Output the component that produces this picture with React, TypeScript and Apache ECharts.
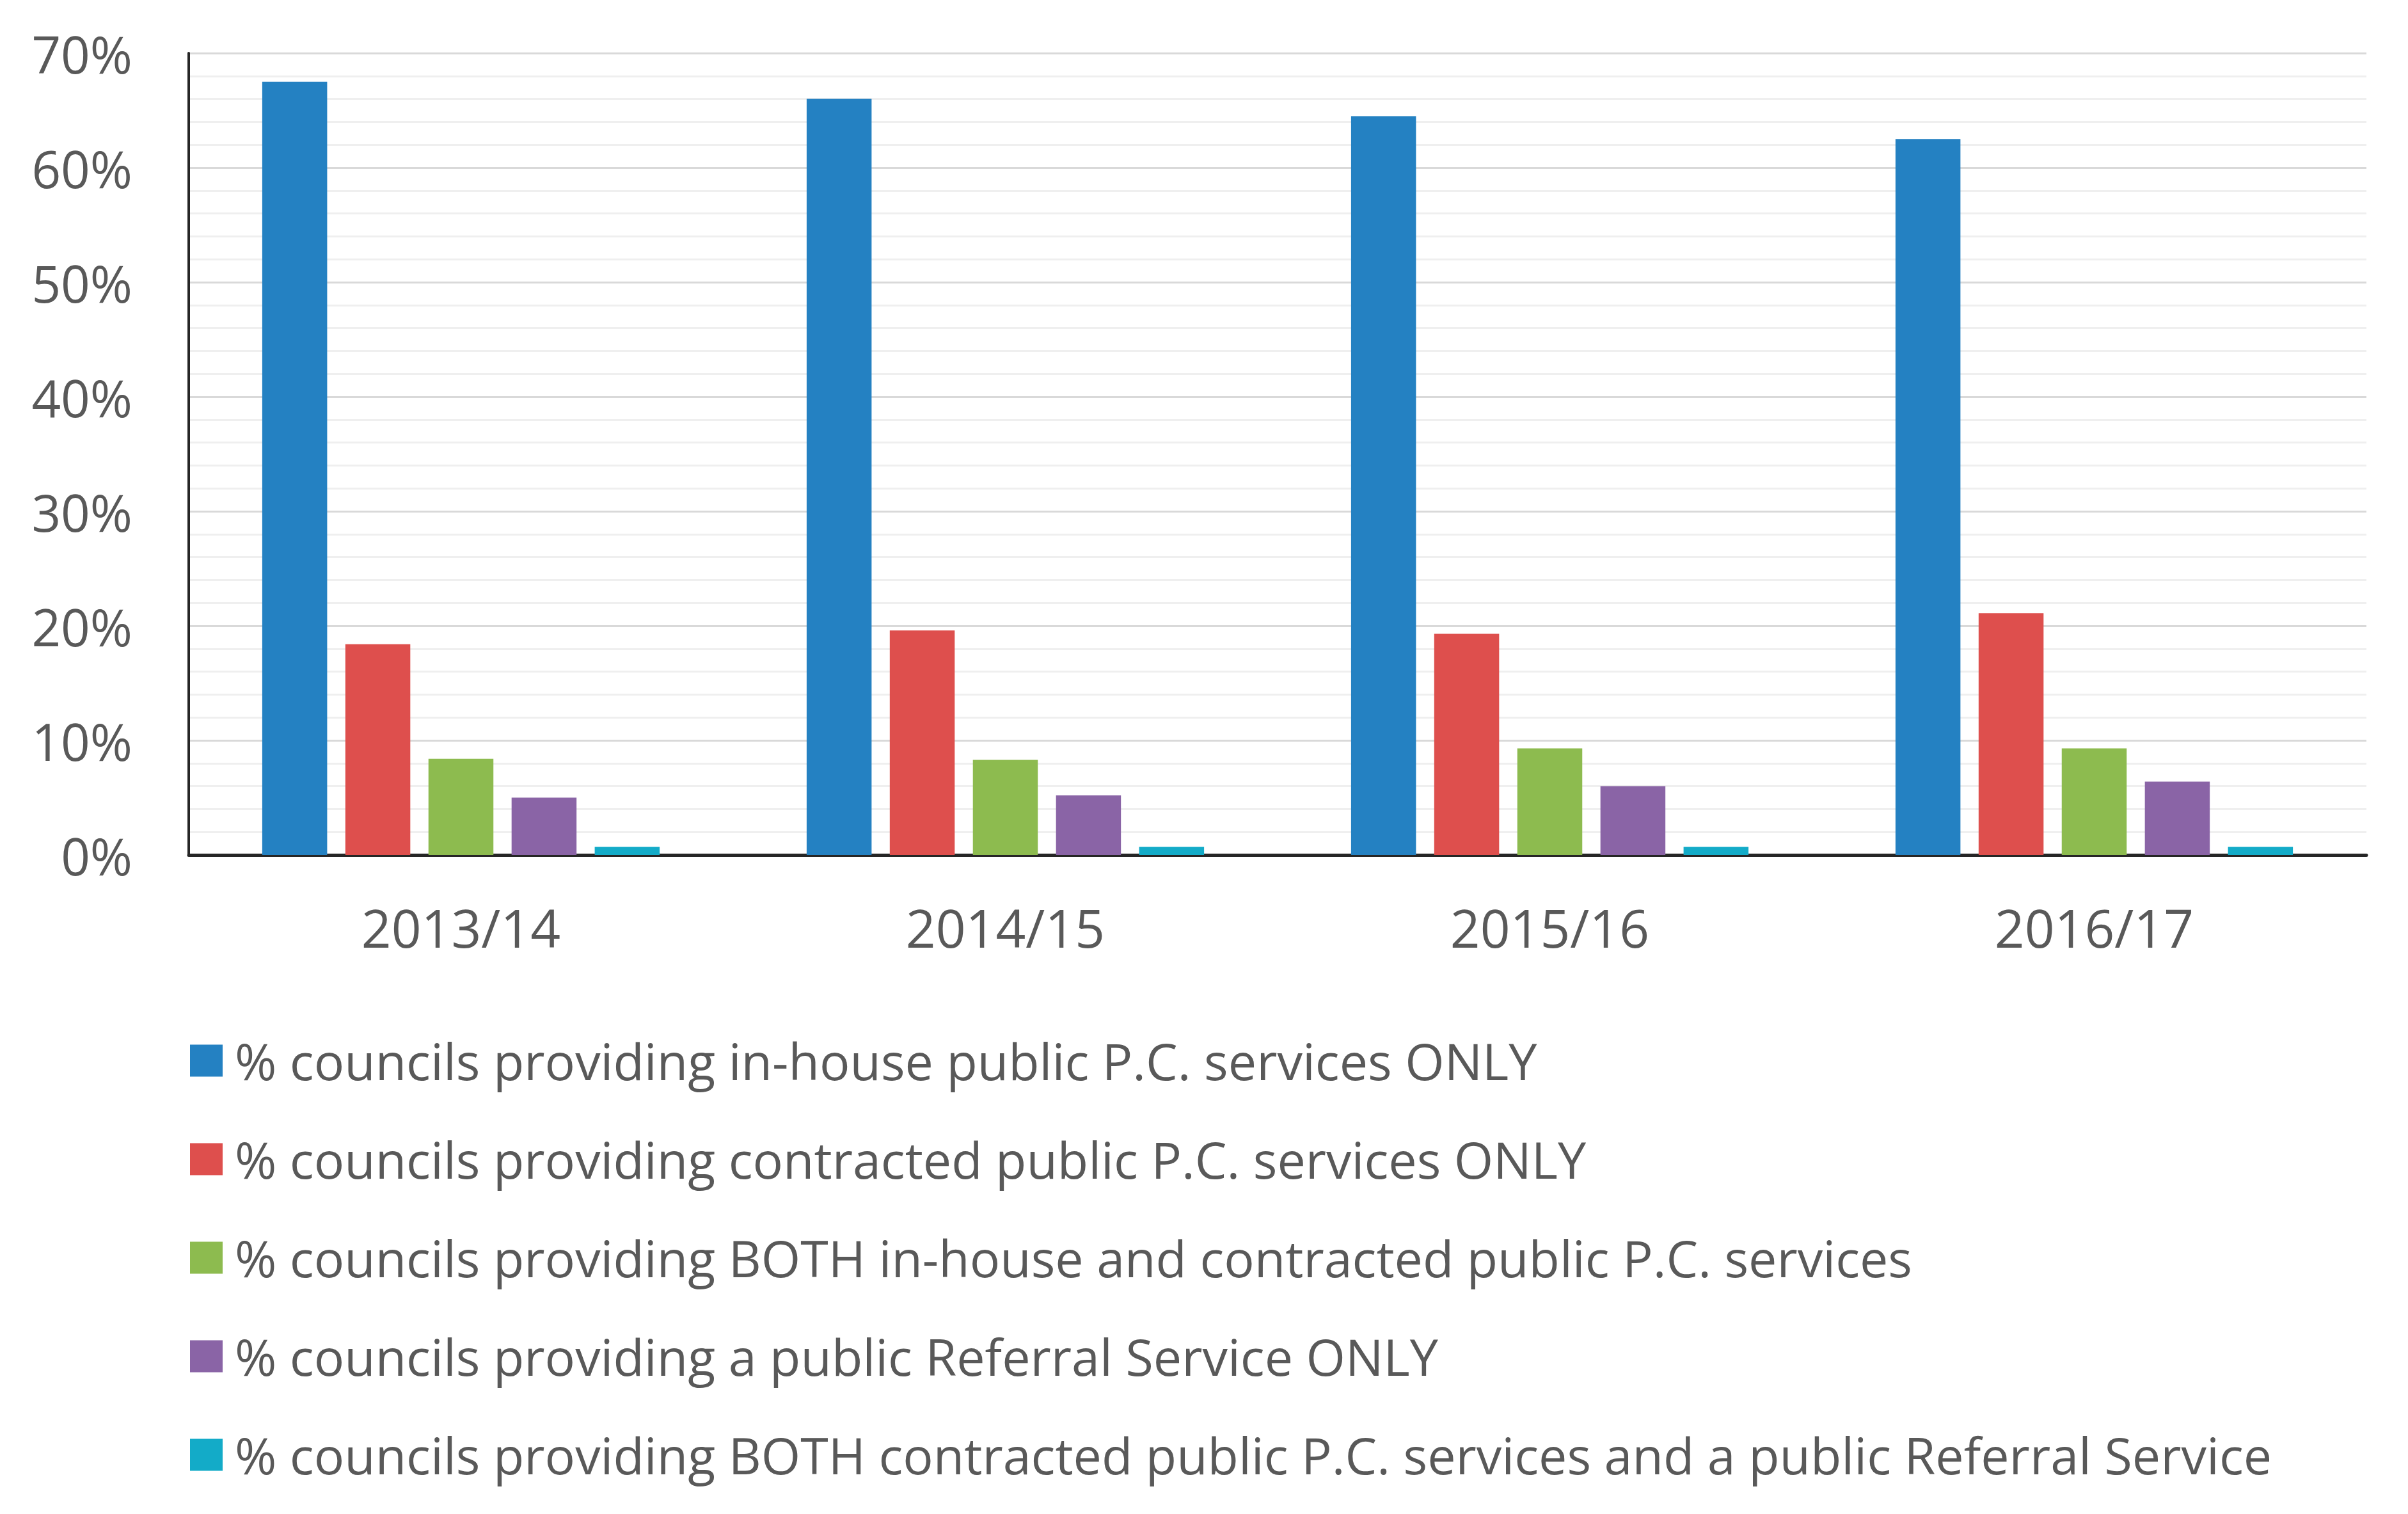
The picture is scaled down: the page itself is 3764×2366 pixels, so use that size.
import React, { useEffect, useRef } from "react";
import * as echarts from "echarts";

const categories = ["2013/14", "2014/15", "2015/16", "2016/17"];
const seriesNames = [
  "% councils providing in-house public P.C. services ONLY",
  "% councils providing contracted public P.C. services ONLY",
  "% councils providing BOTH in-house and contracted public P.C. services",
  "% councils providing a public Referral Service ONLY",
  "% councils providing BOTH contracted public P.C. services and a public Referral Service",
];
const inHouseOnly = [67.5, 66.0, 64.5, 62.5];
const contractedOnly = [18.4, 19.6, 19.3, 21.1];
const bothInHouseContracted = [8.4, 8.3, 9.3, 9.3];
const referralOnly = [5.0, 5.2, 6.0, 6.4];
const bothContractedReferral = [0.7, 0.7, 0.7, 0.7];
const colors = ["#2481C2", "#DE4F4D", "#8DBB4F", "#8A64A6", "#13ABC8"];

const FONT = "'Open Sans', sans-serif";
const TEXT = "#595959";

export default function App() {
  const ref = useRef<HTMLDivElement>(null);
  useEffect(() => {
    if (!ref.current) return;
    const chart = echarts.init(ref.current, undefined, { renderer: "svg" });
    const data = [inHouseOnly, contractedOnly, bothInHouseContracted, referralOnly, bothContractedReferral];
    chart.setOption({
      animation: false,
      backgroundColor: "#ffffff",
      textStyle: { fontFamily: FONT },
      color: colors,
      grid: { left: 295, right: 65, top: 83, bottom: 2366 - 1336, containLabel: false },
      legend: {
        orient: "vertical",
        left: 292,
        top: 1613,
        height: 740,
        itemWidth: 51,
        itemHeight: 50,
        itemGap: 75,
        icon: "rect",
        selectedMode: false,
        textStyle: { fontFamily: FONT, fontSize: 79, color: TEXT, lineHeight: 78, padding: [0, 0, 0, 14] },
        data: seriesNames,
      },
      xAxis: {
        type: "category",
        data: categories,
        axisLine: { lineStyle: { color: "#262626", width: 5 } },
        axisTick: { show: false },
        axisLabel: { fontFamily: FONT, fontSize: 82, color: TEXT, margin: 72 },
      },
      yAxis: {
        type: "value",
        min: 0,
        max: 70,
        interval: 10,
        axisLine: { show: true, lineStyle: { color: "#262626", width: 4 } },
        axisTick: { show: false },
        axisLabel: { fontFamily: FONT, fontSize: 80, color: TEXT, margin: 88, formatter: "{value}%" },
        splitLine: { show: true, lineStyle: { color: "#d9d9d9", width: 3 } },
        minorTick: { show: false, splitNumber: 5 },
        minorSplitLine: { show: true, lineStyle: { color: "#efefef", width: 3 } },
      },
      series: data.map((d, i) => ({
        name: seriesNames[i],
        type: "bar",
        data: d,
        barGap: "28%",
        barCategoryGap: "27%",
        itemStyle: { color: colors[i] },
      })),
    });
    return () => chart.dispose();
  }, []);
  return (
    <div
      ref={ref}
      style={{ position: "fixed", left: 0, top: 0, width: 3764, height: 2366, background: "#fff" }}
    />
  );
}
